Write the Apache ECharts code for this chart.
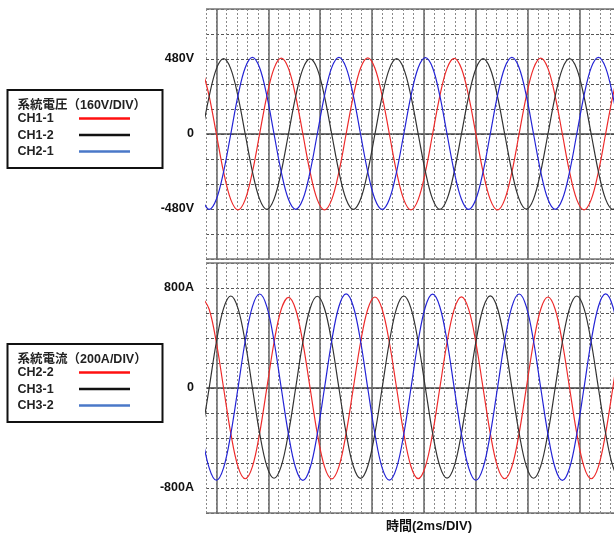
<!DOCTYPE html>
<html>
<head>
<meta charset="utf-8">
<title>系統電圧・系統電流</title>
<script src="https://cdn.jsdelivr.net/npm/echarts@6.0.0/dist/echarts.min.js"></script>
<style>
  html, body { margin: 0; padding: 0; background: #fff; }
  #chart { width: 614px; height: 534px; }
</style>
</head>
<body>
<div id="chart"></div>
<script>
// 時間 (ms) — サンプル点
var times = [
  -0.556, -0.278, 0, 0.278, 0.556, 0.834, 1.112, 1.39, 1.668, 1.946, 2.224, 2.502,
  2.78, 3.058, 3.336, 3.614, 3.892, 4.17, 4.448, 4.726, 5.004, 5.282, 5.56, 5.838,
  6.116, 6.394, 6.672, 6.95, 7.228, 7.506, 7.784, 8.062, 8.34, 8.618, 8.896, 9.174,
  9.452, 9.73, 10.008, 10.286, 10.564, 10.842, 11.12, 11.398, 11.676, 11.954, 12.232, 12.51,
  12.788, 13.066, 13.344, 13.622, 13.9, 14.178, 14.456, 14.734, 15.012, 15.29, 15.568, 15.846,
  16.124, 16.402, 16.68
];

// 系統電圧 (V)
var ch1_1 = [
  420, 243, 0, -243, -420, -485, -420, -243, 0, 243, 420, 485,
  420, 243, 0, -243, -420, -486, -420, -243, 0, 243, 421, 487,
  421, 243, 0, -243, -420, -485, -420, -243, 0, 243, 420, 484,
  419, 242, 0, -243, -420, -486, -420, -243, 0, 243, 420, 486,
  420, 243, 0, -243, -420, -485, -420, -243, 0, 243, 420, 485,
  420, 243, 0
];
var ch1_2 = [
  0, 241, 417, 482, 417, 241, 0, -241, -417, -482, -417, -241,
  0, 241, 417, 481, 417, 241, 0, -241, -418, -483, -418, -241,
  0, 241, 417, 482, 417, 241, 0, -241, -417, -482, -417, -241,
  0, 241, 418, 483, 418, 241, 0, -241, -417, -481, -417, -241,
  0, 241, 417, 482, 417, 241, 0, -241, -417, -482, -417, -241,
  0, 241, 417
];
var ch2_1 = [
  -418, -483, -418, -242, 0, 245, 424, 490, 424, 245, 0, -242,
  -418, -482, -418, -242, 0, 245, 425, 491, 425, 245, 0, -242,
  -418, -483, -418, -242, 0, 245, 424, 489, 424, 245, 0, -242,
  -418, -483, -418, -242, 0, 245, 424, 490, 424, 245, 0, -242,
  -418, -482, -418, -242, 0, 245, 425, 491, 425, 245, 0, -242,
  -418, -483, -418
];

// 系統電流 (A)
var ch2_2 = [
  728, 630, 364, 0, -363, -629, -726, -629, -363, 0, 364, 630,
  725, 628, 363, 0, -363, -629, -727, -629, -363, 0, 364, 630,
  728, 630, 364, 0, -363, -628, -725, -628, -363, 0, 364, 631,
  729, 631, 364, 0, -363, -629, -726, -629, -363, 0, 364, 630,
  728, 630, 364, 0, -363, -629, -726, -629, -363, 0, 364, 630,
  728, 630, 364
];
var ch3_1 = [
  -361, 0, 368, 637, 736, 637, 368, 0, -361, -625, -722, -625,
  -361, 0, 368, 636, 734, 636, 368, 0, -361, -626, -723, -626,
  -361, 0, 368, 637, 736, 637, 368, 0, -361, -625, -721, -625,
  -361, 0, 368, 638, 737, 638, 368, 0, -361, -625, -722, -625,
  -361, 0, 368, 637, 736, 637, 368, 0, -361, -625, -722, -625,
  -361, 0, 368
];
var ch3_2 = [
  -369, -639, -738, -639, -369, 0, 376, 651, 752, 651, 376, 0,
  -369, -640, -739, -640, -369, 0, 376, 652, 753, 652, 376, 0,
  -369, -639, -737, -639, -369, 0, 376, 650, 751, 650, 376, 0,
  -369, -639, -738, -639, -369, 0, 376, 651, 752, 651, 376, 0,
  -369, -640, -739, -640, -369, 0, 376, 652, 753, 652, 376, 0,
  -369, -639, -738
];

// 目盛ラベル
var voltTicks = [480, 0, -480];
var voltTickLabels = ['480V', '0', '-480V'];
var currTicks = [800, 0, -800];
var currTickLabels = ['800A', '0', '-800A'];

var voltNames = ['CH1-1', 'CH1-2', 'CH2-1'];
var currNames = ['CH2-2', 'CH3-1', 'CH3-2'];
var voltTitle = '系統電圧（160V/DIV）';
var currTitle = '系統電流（200A/DIV）';
var xTitle = '時間(2ms/DIV)';

var lineColors = ['#ee2b2b', '#333333', '#2424d6'];
var legendColors = ['#ff1010', '#111111', '#4a78c8'];

var FONT = '"Liberation Sans", "Noto Sans CJK JP", sans-serif';

function pairs(xs, ys) {
  var out = [];
  for (var i = 0; i < xs.length; i++) out.push([xs[i], ys[i]]);
  return out;
}

function tickFormatter(ticks, labels) {
  return function (v) {
    var i = ticks.indexOf(v);
    return i < 0 ? '' : labels[i];
  };
}

// 細かい点線 (0.4ms)
function minorX(idx) {
  return {
    type: 'value', gridIndex: idx, min: -0.4, max: 16.4, interval: 0.4,
    axisLine: { show: false }, axisTick: { show: false }, axisLabel: { show: false },
    splitLine: { show: true, lineStyle: { color: '#8a8a8a', width: 1, type: [2, 2] } }
  };
}
// 太線 (2ms/DIV)
function majorX(idx) {
  return {
    type: 'value', gridIndex: idx, min: 0, max: 16.4, interval: 2,
    axisLine: { show: false }, axisTick: { show: false }, axisLabel: { show: false },
    splitLine: { show: true, lineStyle: { color: '#666', width: 1.5 } }
  };
}

var gridTop = 9, gridTop2 = 263, gridH = 250;

var option = {
  animation: false,
  backgroundColor: '#fff',
  grid: [
    { left: 206, top: gridTop, width: 435.6, height: gridH, outerBoundsMode: 'none', containLabel: false },
    { left: 216.4, top: gridTop, width: 425.2, height: gridH, outerBoundsMode: 'none', containLabel: false },
    { left: 206, top: gridTop2, width: 435.6, height: gridH, outerBoundsMode: 'none', containLabel: false },
    { left: 216.4, top: gridTop2, width: 425.2, height: gridH, outerBoundsMode: 'none', containLabel: false }
  ],
  xAxis: [
    minorX(0),
    majorX(1),
    minorX(2),
    Object.assign(majorX(3), {
      name: xTitle, nameLocation: 'middle', nameGap: 7,
      nameTextStyle: { fontFamily: FONT, fontWeight: 'bold', fontSize: 13, color: '#111' }
    })
  ],
  yAxis: [
    {
      type: 'value', gridIndex: 0, min: -800, max: 800, interval: 160,
      axisLine: { show: false }, axisTick: { show: false },
      axisLabel: { formatter: tickFormatter(voltTicks, voltTickLabels), fontFamily: FONT,
        fontWeight: 'bold', fontSize: 12.5, color: '#111', margin: 12 },
      splitLine: { lineStyle: { color: '#555', width: 1, type: [3, 2] } }
    },
    {
      type: 'value', gridIndex: 0, position: 'right', min: -800, max: 800, interval: 800,
      axisLine: { show: false }, axisTick: { show: false }, axisLabel: { show: false },
      splitLine: { lineStyle: { color: ['#777', '#444', '#777'], width: 1.5 } }
    },
    { type: 'value', gridIndex: 1, min: -800, max: 800, show: false },
    {
      type: 'value', gridIndex: 2, min: -1000, max: 1000, interval: 200,
      axisLine: { show: false }, axisTick: { show: false },
      axisLabel: { formatter: tickFormatter(currTicks, currTickLabels), fontFamily: FONT,
        fontWeight: 'bold', fontSize: 12.5, color: '#111', margin: 12 },
      splitLine: { lineStyle: { color: '#555', width: 1, type: [3, 2] } }
    },
    {
      type: 'value', gridIndex: 2, position: 'right', min: -1000, max: 1000, interval: 1000,
      axisLine: { show: false }, axisTick: { show: false }, axisLabel: { show: false },
      splitLine: { lineStyle: { color: ['#777', '#444', '#777'], width: 1.5 } }
    },
    { type: 'value', gridIndex: 3, min: -1000, max: 1000, show: false }
  ],
  series: [],
  graphic: []
};

var voltData = [ch1_1, ch1_2, ch2_1];
var currData = [ch2_2, ch3_1, ch3_2];
for (var i = 0; i < 3; i++) {
  option.series.push({
    name: voltNames[i], type: 'line', xAxisIndex: 0, yAxisIndex: 0,
    data: pairs(times, voltData[i]), smooth: 0.35, symbol: 'none',
    lineStyle: { color: lineColors[i], width: 1.2 }, itemStyle: { color: lineColors[i] }, z: 3
  });
  option.series.push({
    name: currNames[i], type: 'line', xAxisIndex: 2, yAxisIndex: 3,
    data: pairs(times, currData[i]), smooth: 0.35, symbol: 'none',
    lineStyle: { color: lineColors[i], width: 1.2 }, itemStyle: { color: lineColors[i] }, z: 3
  });
}

// 凡例ボックス
var boxes = [
  { y: 90, title: voltTitle, names: voltNames },
  { y: 344, title: currTitle, names: currNames }
];
boxes.forEach(function (b) {
  option.graphic.push({
    type: 'rect', shape: { x: 7.5, y: b.y, width: 155, height: 78 },
    style: { fill: '#fff', stroke: '#111', lineWidth: 2 }
  });
  option.graphic.push({
    type: 'text', x: 17.5, y: b.y + 16,
    style: { text: b.title, font: 'bold 12.5px ' + FONT, fill: '#222', verticalAlign: 'middle' }
  });
  b.names.forEach(function (n, j) {
    var ry = b.y + 29 + j * 16.5;
    option.graphic.push({
      type: 'text', x: 17.5, y: ry,
      style: { text: n, font: 'bold 12.5px ' + FONT, fill: '#222', verticalAlign: 'middle' }
    });
    option.graphic.push({
      type: 'line', shape: { x1: 79, y1: ry - 0.5, x2: 130, y2: ry - 0.5 },
      style: { stroke: legendColors[j], lineWidth: 2.5 }
    });
  });
});

var myChart = echarts.init(document.getElementById('chart'));
myChart.setOption(option);
</script>
</body>
</html>
